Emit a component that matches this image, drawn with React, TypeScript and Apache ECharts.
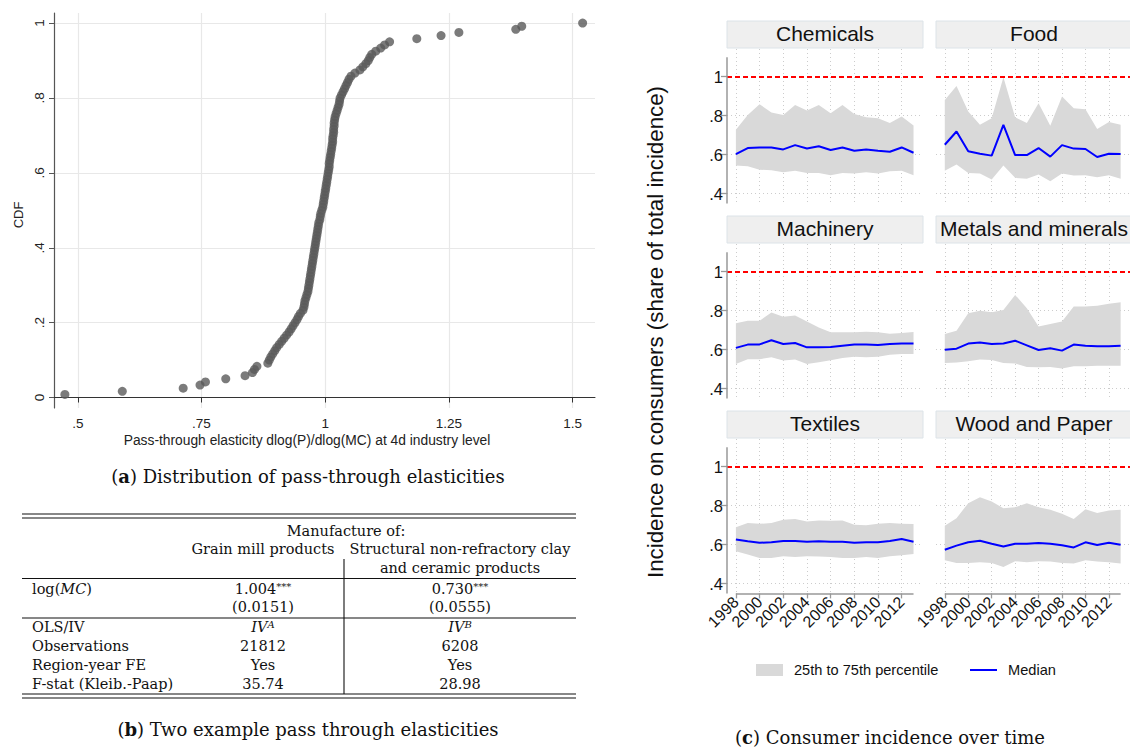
import React, { useEffect, useRef } from 'react';
import * as echarts from 'echarts';

// ---------- Panel (a): pass-through elasticities (sorted, one per 4d industry) ----------
const cdfElasticities = [
  0.474, 0.590, 0.713, 0.747, 0.758, 0.799, 0.838, 0.853, 0.857, 0.862,
  0.884, 0.887, 0.890, 0.894, 0.898, 0.902, 0.907, 0.912, 0.917, 0.922,
  0.927, 0.931, 0.935, 0.939, 0.943, 0.946, 0.950, 0.955, 0.957, 0.958,
  0.959, 0.961, 0.963, 0.965, 0.966, 0.967, 0.968, 0.969, 0.970, 0.971,
  0.972, 0.973, 0.974, 0.975, 0.976, 0.977, 0.978, 0.979, 0.980, 0.981,
  0.982, 0.983, 0.984, 0.985, 0.986, 0.987, 0.989, 0.990, 0.991, 0.993,
  0.995, 0.996, 0.997, 0.998, 0.999, 1.000, 1.001, 1.002, 1.003, 1.004,
  1.005, 1.006, 1.007, 1.008, 1.008, 1.009, 1.010, 1.011, 1.012, 1.013,
  1.014, 1.015, 1.015, 1.016, 1.017, 1.017, 1.018, 1.018, 1.019, 1.020,
  1.022, 1.024, 1.026, 1.028, 1.029, 1.030, 1.033, 1.036, 1.039, 1.042,
  1.045, 1.048, 1.052, 1.060, 1.070, 1.076, 1.082, 1.087, 1.090, 1.094,
  1.102, 1.112, 1.120, 1.130, 1.185, 1.234, 1.270, 1.385, 1.397, 1.520,
];
const cdfXTicks = [0.5, 0.75, 1, 1.25, 1.5];
const cdfYTicks = [0, 0.2, 0.4, 0.6, 0.8, 1];

// ---------- Panel (c): consumer incidence over time ----------
const years = [1998, 1999, 2000, 2001, 2002, 2003, 2004, 2005, 2006, 2007, 2008, 2009, 2010, 2011, 2012, 2013];
const yearTicks = [1998, 2000, 2002, 2004, 2006, 2008, 2010, 2012];
const incidenceTicks = [0.4, 0.6, 0.8, 1];
const sectorNames = ['Chemicals', 'Food', 'Machinery', 'Metals and minerals', 'Textiles', 'Wood and Paper'];

const chemicalsMedian = [0.603, 0.634, 0.637, 0.637, 0.627, 0.649, 0.632, 0.643, 0.624, 0.637, 0.620, 0.626, 0.620, 0.615, 0.637, 0.610];
const chemicalsP75 = [0.728, 0.804, 0.859, 0.816, 0.804, 0.855, 0.826, 0.855, 0.813, 0.855, 0.809, 0.792, 0.787, 0.762, 0.796, 0.750];
const chemicalsP25 = [0.544, 0.540, 0.523, 0.520, 0.510, 0.518, 0.506, 0.506, 0.494, 0.506, 0.503, 0.510, 0.503, 0.515, 0.518, 0.494];

const foodMedian = [0.651, 0.719, 0.617, 0.605, 0.595, 0.753, 0.598, 0.598, 0.634, 0.590, 0.649, 0.631, 0.629, 0.588, 0.605, 0.603];
const foodP75 = [0.881, 0.952, 0.821, 0.753, 0.787, 0.997, 0.792, 0.762, 0.864, 0.748, 0.898, 0.838, 0.833, 0.731, 0.767, 0.753];
const foodP25 = [0.518, 0.549, 0.506, 0.503, 0.472, 0.544, 0.481, 0.476, 0.498, 0.464, 0.503, 0.493, 0.494, 0.484, 0.494, 0.476];

const machineryMedian = [0.609, 0.626, 0.627, 0.648, 0.629, 0.634, 0.612, 0.612, 0.614, 0.620, 0.626, 0.626, 0.624, 0.629, 0.631, 0.631];
const machineryP75 = [0.736, 0.748, 0.748, 0.791, 0.769, 0.775, 0.745, 0.714, 0.689, 0.689, 0.689, 0.692, 0.689, 0.682, 0.685, 0.690];
const machineryP25 = [0.527, 0.551, 0.551, 0.561, 0.544, 0.549, 0.527, 0.535, 0.546, 0.557, 0.564, 0.561, 0.564, 0.574, 0.578, 0.578];

const metalsMedian = [0.600, 0.605, 0.631, 0.637, 0.629, 0.632, 0.646, 0.622, 0.598, 0.607, 0.595, 0.626, 0.620, 0.617, 0.617, 0.620];
const metalsP75 = [0.680, 0.697, 0.787, 0.799, 0.792, 0.804, 0.881, 0.813, 0.719, 0.731, 0.745, 0.821, 0.821, 0.825, 0.835, 0.843];
const metalsP25 = [0.532, 0.534, 0.540, 0.549, 0.547, 0.532, 0.529, 0.511, 0.510, 0.511, 0.503, 0.515, 0.515, 0.517, 0.517, 0.517];

const textilesMedian = [0.626, 0.617, 0.610, 0.612, 0.619, 0.619, 0.615, 0.617, 0.615, 0.615, 0.610, 0.612, 0.612, 0.619, 0.629, 0.615];
const textilesP75 = [0.689, 0.711, 0.707, 0.711, 0.728, 0.731, 0.719, 0.724, 0.723, 0.724, 0.702, 0.699, 0.707, 0.711, 0.707, 0.706];
const textilesP25 = [0.566, 0.549, 0.532, 0.532, 0.540, 0.537, 0.540, 0.539, 0.537, 0.532, 0.532, 0.537, 0.532, 0.540, 0.546, 0.552];

const woodMedian = [0.574, 0.595, 0.612, 0.620, 0.605, 0.591, 0.605, 0.605, 0.609, 0.605, 0.597, 0.586, 0.612, 0.598, 0.610, 0.600];
const woodP75 = [0.697, 0.736, 0.813, 0.843, 0.821, 0.787, 0.792, 0.813, 0.792, 0.779, 0.758, 0.731, 0.782, 0.762, 0.775, 0.779];
const woodP25 = [0.520, 0.506, 0.506, 0.510, 0.506, 0.486, 0.515, 0.510, 0.515, 0.513, 0.506, 0.503, 0.520, 0.513, 0.510, 0.503];

const medians = [chemicalsMedian, foodMedian, machineryMedian, metalsMedian, textilesMedian, woodMedian];
const p75s = [chemicalsP75, foodP75, machineryP75, metalsP75, textilesP75, woodP75];
const p25s = [chemicalsP25, foodP25, machineryP25, metalsP25, textilesP25, woodP25];

// ---------- Panel (b): table ----------
const tableRowLabels = ['OLS/IV', 'Observations', 'Region-year FE', 'F-stat (Kleib.-Paap)'];
const grainValues = ['21812', 'Yes', '35.74'];
const clayValues = ['6208', 'Yes', '28.98'];

const SANS = '"Liberation Sans", Arial, sans-serif';
const SERIF = '"DejaVu Serif", serif';

function fmtNum(v: number) {
  return String(Math.round(v * 1000) / 1000).replace(/^0\./, '.');
}

function buildOption() {
  const grid: any[] = [];
  const xAxis: any[] = [];
  const yAxis: any[] = [];
  const series: any[] = [];

  // Panel (a)
  grid.push({ left: 54, top: 13, width: 541, height: 395 });
  xAxis.push({
    type: 'value', gridIndex: 0, min: 0.452, max: 1.545,
    axisLine: { show: true, lineStyle: { color: '#333', width: 1 } },
    axisTick: { show: true, length: 5, customValues: cdfXTicks, lineStyle: { color: '#333' } },
    axisLabel: { customValues: cdfXTicks, formatter: fmtNum, fontFamily: SANS, fontSize: 13.5, color: '#222', margin: 8 },
    splitLine: { show: true, lineStyle: { color: '#e8e8e8', width: 1.2 } },
  });
  yAxis.push({
    type: 'value', gridIndex: 0, min: -0.028, max: 1.027,
    axisLine: { show: true, lineStyle: { color: '#555', width: 1.2 } },
    axisTick: { show: true, length: 5, customValues: cdfYTicks, lineStyle: { color: '#555' } },
    axisLabel: { customValues: cdfYTicks, formatter: fmtNum, rotate: 90, fontFamily: SANS, fontSize: 13.5, color: '#222', margin: 8 },
    splitLine: { show: true, lineStyle: { color: '#e8e8e8', width: 1.2 } },
  });
  const n = cdfElasticities.length;
  series.push({
    type: 'scatter', xAxisIndex: 0, yAxisIndex: 0, symbol: 'circle', symbolSize: 9,
    itemStyle: { color: '#5a5a5a' }, silent: true,
    data: cdfElasticities.map((v, i) => [v, (i + 1) / n]),
  });

  // Panel (c)
  const xMin = 1997.25, xMax = 2013.8, yMin = 0.35, yMax = 1.142;
  for (let k = 0; k < 6; k++) {
    const col = k % 2, row = Math.floor(k / 2);
    const gi = k + 1;
    grid.push({ left: 727 + 209 * col, top: 49 + 195 * row, width: 196, height: 154.4 });
    const bottomRow = row === 2;
    const leftCol = col === 0;
    xAxis.push({
      type: 'value', gridIndex: gi, min: xMin, max: xMax,
      axisLine: { show: false },
      axisTick: { show: bottomRow, length: 5, customValues: yearTicks, lineStyle: { color: '#999', width: 1.3 } },
      axisLabel: { show: bottomRow, customValues: yearTicks, rotate: 45, fontFamily: SANS, fontSize: 16, color: '#111', margin: 6, formatter: (v: number) => String(v) },
      splitLine: { show: true, lineStyle: { color: '#cccccc', width: 1, type: [1, 3] } },
    });
    yAxis.push({
      type: 'value', gridIndex: gi, min: yMin, max: yMax,
      axisLine: { show: false },
      axisTick: { show: leftCol, length: 6, customValues: incidenceTicks, lineStyle: { color: '#999', width: 1.3 } },
      axisLabel: { show: leftCol, customValues: incidenceTicks, formatter: fmtNum, fontFamily: SANS, fontSize: 16.5, color: '#111', margin: 4 },
      splitLine: { show: true, lineStyle: { color: '#cccccc', width: 1, type: [1, 3] } },
    });
    const lo = p25s[k], hi = p75s[k];
    // 25th-75th percentile band as one polygon through the axis scales
    series.push({
      type: 'custom', xAxisIndex: gi, yAxisIndex: gi, silent: true, z: 1,
      data: years.map((y, j) => [y, lo[j], hi[j]]),
      encode: { x: 0, y: [1, 2] },
      renderItem: (params: any, api: any) => {
        if (params.dataIndex !== 0) return null;
        const pts: number[][] = [];
        for (let j = 0; j < years.length; j++) pts.push(api.coord([years[j], hi[j]]));
        for (let j = years.length - 1; j >= 0; j--) pts.push(api.coord([years[j], lo[j]]));
        return { type: 'polygon', shape: { points: pts }, style: { fill: '#d9d9d9', stroke: 'none' } };
      },
    });
    const markData: any[] = [
      { yAxis: 1, lineStyle: { color: '#ff0000', width: 2, type: [5, 3] } },
    ];
    if (leftCol) {
      markData.push([
        { coord: [xMin, yMin], lineStyle: { color: '#999', width: 1.5, type: 'solid' } },
        { coord: [xMin, 1.1] },
      ]);
    }
    if (bottomRow) {
      markData.push([
        { coord: [1998, yMin], lineStyle: { color: '#999', width: 1.5, type: 'solid' } },
        { coord: [2013, yMin] },
      ]);
    }
    series.push({
      type: 'line', xAxisIndex: gi, yAxisIndex: gi, symbol: 'none', silent: true, z: 3,
      lineStyle: { color: '#0000ff', width: 2 }, itemStyle: { color: '#0000ff' },
      data: years.map((y, j) => [y, medians[k][j]]),
      markLine: { silent: true, symbol: ['none', 'none'], label: { show: false }, data: markData },
    });
  }

  // Graphic: strips, titles, legend, captions, table
  const g: any[] = [];
  for (let k = 0; k < 6; k++) {
    const col = k % 2, row = Math.floor(k / 2);
    const x = 727 + 209 * col, y = 21 + 195 * row;
    g.push({ type: 'rect', shape: { x, y, width: 196, height: 27 }, style: { fill: '#efefef', stroke: '#dce3e8', lineWidth: 1 }, silent: true });
    g.push({ type: 'text', x: x + 98, y: y + 12.5, style: { text: sectorNames[k], fontFamily: SANS, fontSize: 21, fill: '#111', align: 'center', verticalAlign: 'middle' }, silent: true });
  }
  // Axis titles
  g.push({ type: 'text', x: 18, y: 215, rotation: Math.PI / 2, style: { text: 'CDF', fontFamily: SANS, fontSize: 13, fill: '#222', align: 'center', verticalAlign: 'middle' } });
  g.push({ type: 'text', x: 307, y: 440, style: { text: 'Pass-through elasticity dlog(P)/dlog(MC) at 4d industry level', fontFamily: SANS, fontSize: 13.8, fill: '#222', align: 'center', verticalAlign: 'middle' } });
  g.push({ type: 'text', x: 655, y: 332, rotation: Math.PI / 2, style: { text: 'Incidence on consumers (share of total incidence)', fontFamily: SANS, fontSize: 22.3, fill: '#111', align: 'center', verticalAlign: 'middle' } });
  // Legend
  g.push({ type: 'rect', shape: { x: 756, y: 664, width: 27, height: 12 }, style: { fill: '#d9d9d9' } });
  g.push({ type: 'text', x: 794, y: 670, style: { text: '25th to 75th percentile', fontFamily: SANS, fontSize: 14.6, fill: '#111', align: 'left', verticalAlign: 'middle' } });
  g.push({ type: 'line', shape: { x1: 970, y1: 670, x2: 997, y2: 670 }, style: { stroke: '#0000ff', lineWidth: 2 } });
  g.push({ type: 'text', x: 1008, y: 670, style: { text: 'Median', fontFamily: SANS, fontSize: 14.6, fill: '#111', align: 'left', verticalAlign: 'middle' } });

  // Captions
  const capRich = {
    n: { fontFamily: SERIF, fontSize: 18, fill: '#111' },
    b: { fontFamily: SERIF, fontSize: 18, fontWeight: 'bold', fill: '#111' },
  };
  g.push({ type: 'text', x: 308, y: 476, style: { text: '{n|(}{b|a}{n|) Distribution of pass-through elasticities}', rich: capRich, align: 'center', verticalAlign: 'middle' } });
  g.push({ type: 'text', x: 308, y: 729, style: { text: '{n|(}{b|b}{n|) Two example pass through elasticities}', rich: capRich, align: 'center', verticalAlign: 'middle' } });
  g.push({ type: 'text', x: 890, y: 737, style: { text: '{n|(}{b|c}{n|) Consumer incidence over time}', rich: capRich, align: 'center', verticalAlign: 'middle' } });

  // Table
  const TX1 = 22, TX2 = 576, C1 = 263, C2 = 460, VX = 344;
  const hline = (y: number, w = 1.1) => g.push({ type: 'line', shape: { x1: TX1, y1: y, x2: TX2, y2: y }, style: { stroke: '#111', lineWidth: w } });
  hline(514, 1.2); hline(518, 1.2);
  hline(578.5); hline(618);
  hline(694, 1.2); hline(698, 1.2);
  g.push({ type: 'line', shape: { x1: VX, y1: 559, x2: VX, y2: 694 }, style: { stroke: '#111', lineWidth: 1.1 } });
  const FS = 14.5;
  const tRich = {
    n: { fontFamily: SERIF, fontSize: FS, fill: '#111' },
    i: { fontFamily: SERIF, fontSize: FS, fontStyle: 'italic', fill: '#111' },
    s: { fontFamily: SERIF, fontSize: 10, fill: '#111', verticalAlign: 'top' },
    si: { fontFamily: SERIF, fontSize: 10, fontStyle: 'italic', fill: '#111', verticalAlign: 'top' },
  };
  const txt = (x: number, y: number, text: string, align = 'center') =>
    g.push({ type: 'text', x, y, style: { text, rich: tRich, align, verticalAlign: 'middle' } });
  txt(346, 531, '{n|Manufacture of:}');
  txt(C1, 549, '{n|Grain mill products}');
  txt(C2, 549, '{n|Structural non-refractory clay}');
  txt(C2, 568, '{n|and ceramic products}');
  txt(32, 589, '{n|log(}{i|MC}{n|)}', 'left');
  txt(C1, 589, '{n|1.004}{s|***}');
  txt(C2, 589, '{n|0.730}{s|***}');
  txt(C1, 607, '{n|(0.0151)}');
  txt(C2, 607, '{n|(0.0555)}');
  const rowYs = [627, 646, 665, 684];
  tableRowLabels.forEach((lab, r) => txt(32, rowYs[r], '{n|' + lab + '}', 'left'));
  txt(C1, 627, '{i|IV}{si|A}');
  txt(C2, 627, '{i|IV}{si|B}');
  grainValues.forEach((v, r) => txt(C1, rowYs[r + 1], '{n|' + v + '}'));
  clayValues.forEach((v, r) => txt(C2, rowYs[r + 1], '{n|' + v + '}'));

  return {
    animation: false,
    backgroundColor: '#ffffff',
    grid, xAxis, yAxis, series,
    graphic: { elements: g },
  };
}

export default function App() {
  const ref = useRef<HTMLDivElement>(null);
  useEffect(() => {
    if (!ref.current) return;
    const chart = echarts.init(ref.current, undefined, { renderer: 'svg' });
    chart.setOption(buildOption() as any);
    return () => chart.dispose();
  }, []);
  return <div ref={ref} style={{ position: 'absolute', left: 0, top: 0, width: 1130, height: 748 }} />;
}
